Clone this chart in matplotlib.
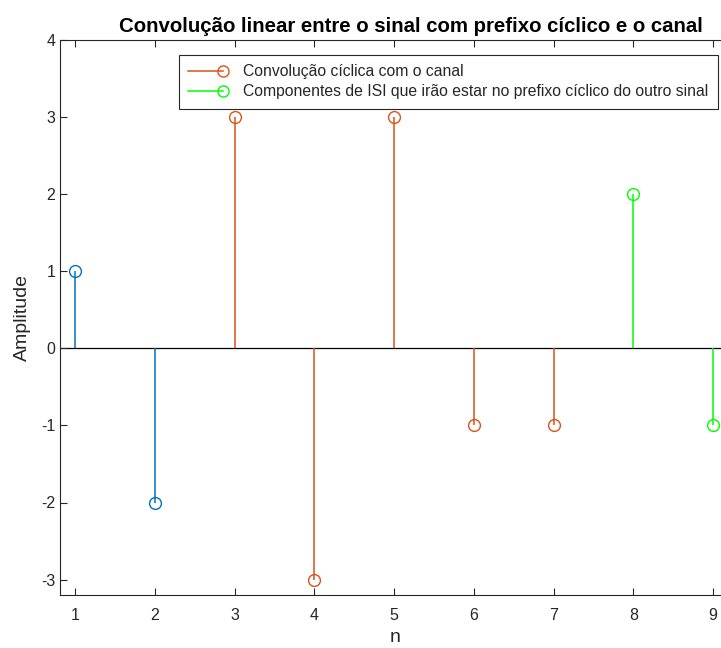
import matplotlib.pyplot as plt
from matplotlib.legend_handler import HandlerLine2D
from matplotlib.lines import Line2D

plt.rcParams["font.family"] = ["Liberation Sans", "DejaVu Sans"]
plt.rcParams["axes.unicode_minus"] = False

# dados
n_sinal = [1, 2]
y_sinal = [1, -2]
n_conv = [3, 4, 5, 6, 7]
y_conv = [3, -3, 3, -1, -1]
n_isi = [8, 9]
y_isi = [2, -1]

azul = "#0072BD"
laranja = "#D95319"
verde = "#00FF00"
cinza = "#262626"


class MarcadorNoFim(HandlerLine2D):
    # marcador na ponta direita da linha, como no MATLAB
    def create_artists(self, *args, **kwargs):
        arts = super().create_artists(*args, **kwargs)
        for a in arts:
            a.set_markevery([len(a.get_xdata()) - 1])
        return arts


fig = plt.figure(figsize=(7.21, 6.48), dpi=100)
ax = fig.add_axes([60 / 721, 53 / 648, 665 / 721, 555 / 648])


def haste(n, y, cor):
    ml, sl, bl = ax.stem(n, y, basefmt=" ")
    plt.setp(sl, color=cor, linewidth=1.1)
    plt.setp(ml, color=cor, markerfacecolor="none", markersize=8.5, markeredgewidth=1.0)


haste(n_sinal, y_sinal, azul)
haste(n_conv, y_conv, laranja)
haste(n_isi, y_isi, verde)
ax.axhline(0, color="black", linewidth=0.9, zorder=0)

ax.set_xlim(0.81, 9.15)
ax.set_ylim(-3.2, 4)
ax.set_xticks(range(1, 10))
ax.set_yticks(range(-3, 5))
ax.tick_params(direction="in", length=5, colors=cinza, labelsize=11.5, top=True, right=False,
               width=0.8)
ax.tick_params(axis="x", pad=9)
for s in ax.spines.values():
    s.set_color(cinza)
    s.set_linewidth(0.8)

ax.set_title("Convolução linear entre o sinal com prefixo cíclico e o canal",
             fontsize=14.7, fontweight="bold", color="black", pad=6, x=(411 - 60) / 665)
ax.set_xlabel("n", fontsize=14, color=cinza)
ax.xaxis.set_label_coords((395 - 60) / 665, -0.061)
ax.set_ylabel("Amplitude", fontsize=14, color=cinza, labelpad=7)

h1 = Line2D([], [], color=laranja, marker="o", markerfacecolor="none", markersize=8, linewidth=1.1)
h2 = Line2D([], [], color=verde, marker="o", markerfacecolor="none", markersize=8, linewidth=1.1)
leg = ax.legend([h1, h2],
                ["Convolução cíclica com o canal",
                 "Componentes de ISI que irão estar no prefixo cíclico do outro sinal"],
                loc="upper right", bbox_to_anchor=((718 - 60) / 665, 0.973), fontsize=11.3,
                numpoints=1, handlelength=2.2, handletextpad=1.3, borderpad=0.6,
                labelspacing=0.3, borderaxespad=0,
                fancybox=False, framealpha=1, edgecolor=cinza,
                handler_map={Line2D: MarcadorNoFim()})
leg.get_frame().set_linewidth(0.8)
for t in leg.get_texts():
    t.set_color(cinza)

fig.savefig("out.png", dpi=100)
